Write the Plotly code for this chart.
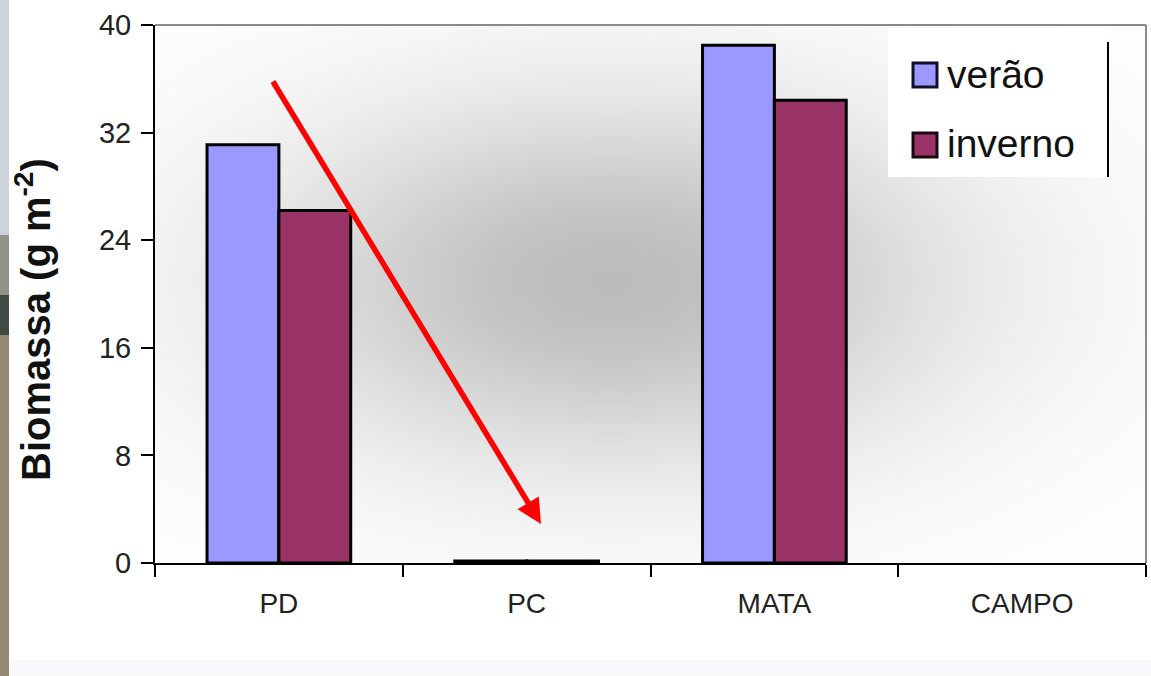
import base64
import struct
import zlib

import numpy as np
import plotly.graph_objects as go

# ---- data -------------------------------------------------------------
categories = ["PD", "PC", "MATA", "CAMPO"]
verao = [31.1, 0.15, 38.5, 0.0]
inverno = [26.2, 0.15, 34.4, 0.0]
y_ticks = [0, 8, 16, 24, 32, 40]

COLOR_VERAO = "#9999FF"
COLOR_INVERNO = "#993366"

W, H = 1151, 676
# plot area in pixels
PL, PR, PT, PB = 155, 1146, 25, 563


def px_x(px):
    return (px - PL) / (PR - PL)


def px_y(py):
    return (PB - py) / (PB - PT)


def png_uri(rgb):
    """Encode an HxWx3 uint8 array as a PNG data URI."""
    h, w, _ = rgb.shape
    raw = b"".join(b"\x00" + rgb[r].tobytes() for r in range(h))

    def chunk(tag, data):
        c = struct.pack(">I", len(data)) + tag + data
        return c + struct.pack(">I", zlib.crc32(tag + data) & 0xFFFFFFFF)

    png = b"\x89PNG\r\n\x1a\n"
    png += chunk(b"IHDR", struct.pack(">IIBBBBB", w, h, 8, 2, 0, 0, 0))
    png += chunk(b"IDAT", zlib.compress(raw, 9))
    png += chunk(b"IEND", b"")
    return "data:image/png;base64," + base64.b64encode(png).decode()


# soft grey shading behind the bars
gw, gh = (PR - PL) // 2, (PB - PT) // 2
yy, xx = np.mgrid[0:gh, 0:gw].astype(float) * 2
cx, cy = 610 - PL, 280 - PT
shade = 0.26 * np.exp(-(((xx - cx) / 350) ** 2 + ((yy - cy) / 185) ** 2))
val = (255 * (1 - shade)).clip(0, 255).astype(np.uint8)
grad = np.dstack([val, val, val])

# empty categories get no outline
outline_w = [0 if (a == 0 and b == 0) else 3 for a, b in zip(verao, inverno)]

fig = go.Figure()
fig.add_trace(go.Bar(
    x=categories, y=verao, name="verão",
    marker=dict(color=COLOR_VERAO, line=dict(color="black", width=outline_w)),
    showlegend=False,
))
fig.add_trace(go.Bar(
    x=categories, y=inverno, name="inverno",
    marker=dict(color=COLOR_INVERNO, line=dict(color="black", width=outline_w)),
    showlegend=False,
))

font_family = "Liberation Sans, Arial, sans-serif"

shapes = [
    # slide photo strip on the left edge
    dict(type="rect", xref="paper", yref="paper", x0=px_x(0), x1=px_x(9),
         y0=px_y(0), y1=px_y(235), fillcolor="#ccd3d9", line_width=0, layer="below"),
    dict(type="rect", xref="paper", yref="paper", x0=px_x(0), x1=px_x(9),
         y0=px_y(235), y1=px_y(295), fillcolor="#8f9488", line_width=0, layer="below"),
    dict(type="rect", xref="paper", yref="paper", x0=px_x(0), x1=px_x(9),
         y0=px_y(295), y1=px_y(335), fillcolor="#3e4a42", line_width=0, layer="below"),
    dict(type="rect", xref="paper", yref="paper", x0=px_x(0), x1=px_x(9),
         y0=px_y(335), y1=px_y(676), fillcolor="#948a72", line_width=0, layer="below"),
    # faint band at the bottom of the slide
    dict(type="rect", xref="paper", yref="paper", x0=px_x(9), x1=px_x(W),
         y0=px_y(660), y1=px_y(676), fillcolor="#f7f9fb", line_width=0, layer="below"),
    # grey frame on top and right of the plot area
    dict(type="line", xref="paper", yref="paper", x0=0, x1=1, y0=1, y1=1,
         line=dict(color="#8a8a8a", width=2)),
    dict(type="line", xref="paper", yref="paper", x0=1, x1=1, y0=0, y1=1,
         line=dict(color="#8a8a8a", width=2)),
    # legend box
    dict(type="rect", xref="paper", yref="paper", x0=px_x(888), x1=px_x(1108),
         y0=px_y(177), y1=px_y(28), fillcolor="white", line_width=0),
    dict(type="line", xref="paper", yref="paper", x0=px_x(1108), x1=px_x(1108),
         y0=px_y(177), y1=px_y(42), line=dict(color="black", width=2)),
    dict(type="rect", xref="paper", yref="paper", x0=px_x(913), x1=px_x(937),
         y0=px_y(87), y1=px_y(63), fillcolor=COLOR_VERAO,
         line=dict(color="#10102a", width=3)),
    dict(type="rect", xref="paper", yref="paper", x0=px_x(913), x1=px_x(937),
         y0=px_y(157), y1=px_y(133), fillcolor=COLOR_INVERNO,
         line=dict(color="#1a0810", width=3)),
]

annotations = [
    dict(text="verão", xref="paper", yref="paper", x=px_x(945), y=px_y(75),
         xanchor="left", yanchor="middle", showarrow=False,
         font=dict(family=font_family, size=39, color="#111")),
    dict(text="inverno", xref="paper", yref="paper", x=px_x(945), y=px_y(143),
         xanchor="left", yanchor="middle", showarrow=False,
         font=dict(family=font_family, size=39, color="#111")),
    # y-axis title
    dict(text="<b>Biomassa (g m<sup>-2</sup>)</b>", xref="paper", yref="paper",
         x=px_x(33), y=px_y(320), xanchor="center", yanchor="middle",
         textangle=-90, showarrow=False,
         font=dict(family=font_family, size=40, color="#111")),
    # red arrow pointing to PC
    dict(text="", xref="paper", yref="paper", x=px_x(541), y=px_y(524),
         ax=272 - 541, ay=80 - 524, axref="pixel", ayref="pixel",
         showarrow=True, arrowhead=2, arrowsize=0.9, arrowwidth=5.5,
         arrowcolor="#ff0000"),
]

fig.update_layout(
    width=W, height=H,
    margin=dict(l=PL, r=W - PR, t=PT, b=H - PB),
    paper_bgcolor="white",
    plot_bgcolor="rgba(0,0,0,0)",
    barmode="group",
    bargap=0.42,
    bargroupgap=0,
    font=dict(family=font_family, color="#1a1a1a"),
    shapes=shapes,
    annotations=annotations,
    images=[dict(source=png_uri(grad), xref="paper", yref="paper",
                 x=0, y=1, sizex=1, sizey=1, xanchor="left", yanchor="top",
                 sizing="stretch", layer="below")],
    xaxis=dict(
        showgrid=False, showline=True, linecolor="black", linewidth=2,
        ticks="outside", tickson="boundaries", ticklen=12, tickwidth=2,
        tickcolor="black", tickfont=dict(size=28, color="#222"),
        ticklabelstandoff=14,
    ),
    yaxis=dict(
        range=[0, 40], tickvals=y_ticks, showgrid=False, zeroline=False,
        showline=True, linecolor="black", linewidth=2,
        ticks="outside", ticklen=12, tickwidth=2, tickcolor="black",
        tickfont=dict(size=29, color="#222"), ticklabelstandoff=4,
    ),
)

fig.write_html("out.html")
